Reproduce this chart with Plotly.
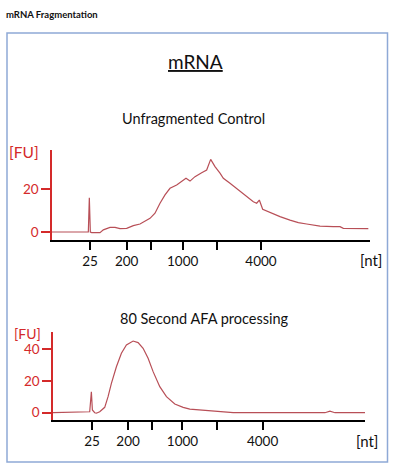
import plotly.graph_objects as go

# ---------------- data (migration position, arbitrary units ; fluorescence FU) -------------
tick_labels = ["25", "200", "", "1000", "", "4000"]
ticks_top = [27.0, 38.0, 45.2, 54.8, 65.2, 78.3]
ticks_bottom = [27.7, 38.5, 45.7, 54.8, 65.2, 78.8]

control_pos = [15.6, 26.5, 26.8, 27.1, 27.5, 30.0, 31.0, 33.0, 34.5, 36.0, 38.0, 40.0, 42.0,
               45.0, 46.5, 48.0, 49.5, 51.0, 53.0, 55.0, 55.8, 57.0, 58.5, 60.5, 62.0, 63.2,
               64.5, 66.0, 67.0, 69.0, 71.5, 74.0, 76.0, 77.0, 77.8, 78.8, 81.0, 84.0, 87.0,
               89.5, 92.0, 96.0, 100.0, 102.0, 103.0, 107.0, 110.5]
control_fu = [0.0, 0.0, 16.1, 0.0, -0.3, -0.3, 1.0, 2.2, 2.2, 1.6, 1.7, 3.0, 3.75,
              6.4, 8.8, 13.5, 17.4, 20.5, 22.1, 24.1, 25.2, 23.9, 26.0, 27.8, 29.1, 34.1,
              30.7, 27.6, 25.2, 22.9, 19.7, 16.6, 14.2, 13.5, 15.0, 10.7, 9.1, 7.2, 5.6,
              4.4, 3.75, 2.8, 2.5, 2.5, 1.7, 1.6, 1.6]

afa_pos = [16.0, 27.0, 27.5, 27.8, 28.5, 29.0, 30.0, 31.5, 32.5, 33.5, 35.0, 36.5, 38.0,
           40.0, 41.5, 43.0, 44.5, 46.0, 48.0, 50.0, 52.5, 55.0, 57.0, 60.0, 63.0, 66.0,
           70.0, 97.5, 99.0, 100.5, 109.5]
afa_fu = [0.0, 0.6, 13.2, 1.7, 0.0, -0.3, 0.6, 3.4, 10.1, 18.5, 29.0, 37.5, 42.7,
          45.2, 44.2, 40.6, 34.3, 25.9, 16.4, 10.1, 5.5, 3.4, 2.3, 1.8, 1.3, 0.6,
          0.1, 0.0, 1.0, 0.0, 0.0]

# ---------------- styling ----------------
FONT = "Lato"
RED = "#d42a2a"
CURVE = "#b84f57"
W, H = 395, 472

fig = go.Figure()
fig.add_trace(go.Scatter(x=control_pos, y=control_fu, mode="lines",
                         line=dict(color=CURVE, width=1.2), xaxis="x", yaxis="y",
                         showlegend=False, hoverinfo="skip"))
fig.add_trace(go.Scatter(x=afa_pos, y=afa_fu, mode="lines",
                         line=dict(color=CURVE, width=1.2), xaxis="x2", yaxis="y2",
                         showlegend=False, hoverinfo="skip"))

def px_x(p):
    return p / W

def px_y(p):
    return 1 - p / H

xcommon = dict(showgrid=False, zeroline=False, showline=True, linecolor="black", linewidth=1.5,
               ticks="outside", ticklen=8, tickwidth=1.5, tickcolor="black",
               tickfont=dict(family=FONT, size=13.5, color="#111111"), fixedrange=True)
ycommon = dict(showgrid=False, zeroline=False, showline=True, linecolor=RED, linewidth=1.5,
               ticks="outside", ticklen=9, tickwidth=1.5, tickcolor=RED,
               tickfont=dict(family=FONT, size=13.5, color=RED), fixedrange=True)

fig.update_layout(
    width=W, height=H, margin=dict(l=0, r=0, t=0, b=0),
    paper_bgcolor="white", plot_bgcolor="white",
    xaxis=dict(**xcommon, domain=[px_x(52), px_x(370)], range=[15.6, 111.0], anchor="y",
               tickvals=ticks_top, ticktext=tick_labels),
    yaxis=dict(**ycommon, domain=[px_y(240), px_y(150)], range=[-3.75, 38.5], anchor="x",
               tickvals=[0, 20]),
    xaxis2=dict(**xcommon, domain=[px_x(53), px_x(365)], range=[16.0, 109.5], anchor="y2",
                tickvals=ticks_bottom, ticktext=tick_labels),
    yaxis2=dict(**ycommon, domain=[px_y(420), px_y(332)], range=[-4.6, 50.9], anchor="x2",
                tickvals=[0, 20, 40]),
)

fig.add_shape(type="rect", xref="paper", yref="paper",
              x0=px_x(7), x1=px_x(387.5), y0=px_y(462), y1=px_y(33),
              line=dict(color="#8ea9d6", width=1.5))

def ann(text, x, y, size, color="#111111", xanchor="center"):
    fig.add_annotation(text=text, x=px_x(x), y=px_y(y), xref="paper", yref="paper",
                       showarrow=False, xanchor=xanchor, yanchor="middle",
                       font=dict(family=FONT, size=size, color=color))

ann("<b>mRNA Fragmentation</b>", 4, 14, 9.5, xanchor="left")
ann("<u>mRNA</u>", 195, 62, 19)
ann("Unfragmented Control", 193, 118, 14.5)
ann("80 Second AFA processing", 204, 318, 14.5)
ann("[FU]", 24, 152, 15.5, color=RED)
ann("[FU]", 27, 333, 14, color=RED)
ann("[nt]", 371, 260, 15)
ann("[nt]", 367, 441, 15)

fig.write_html("out.html", config={"displayModeBar": False},
               post_script="document.body.style.margin='0';")
